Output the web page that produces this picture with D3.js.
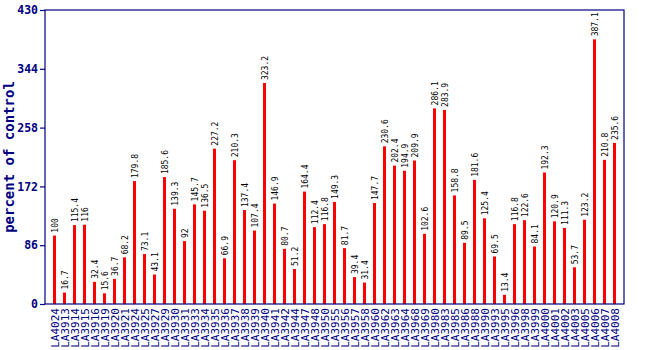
<!DOCTYPE html>
<html>
<head>
<meta charset="utf-8">
<script src="https://cdn.jsdelivr.net/npm/d3@7"></script>
<style>
  html, body { margin: 0; padding: 0; background: #fff; }
  svg { display: block; }
</style>
</head>
<body>
<svg id="chart" width="650" height="350"></svg>
<script>
// Lines tested and their expression relative to control
const lines = ["LA4024","LA3913","LA3914","LA3915","LA3916","LA3919","LA3920","LA3921","LA3924","LA3925",
  "LA3927","LA3929","LA3930","LA3931","LA3933","LA3934","LA3935","LA3936","LA3937","LA3938",
  "LA3939","LA3940","LA3941","LA3942","LA3944","LA3947","LA3948","LA3950","LA3955","LA3956",
  "LA3957","LA3958","LA3960","LA3962","LA3963","LA3964","LA3968","LA3969","LA3980","LA3983",
  "LA3985","LA3986","LA3988","LA3990","LA3993","LA3995","LA3996","LA3998","LA3999","LA4000",
  "LA4001","LA4002","LA4003","LA4005","LA4006","LA4007","LA4008"];
const percentOfControl = [100,16.7,115.4,116,32.4,15.6,36.7,68.2,179.8,73.1,
  43.1,185.6,139.3,92,145.7,136.5,227.2,66.9,210.3,137.4,
  107.4,323.2,146.9,80.7,51.2,164.4,112.4,116.8,149.3,81.7,
  39.4,31.4,147.7,230.6,202.4,194.9,209.9,102.6,286.1,283.9,
  158.8,89.5,181.6,125.4,69.5,13.4,116.8,122.6,84.1,192.3,
  120.9,111.3,53.7,123.2,387.1,210.8,235.6];
const yTicks = [0, 86, 172, 258, 344, 430];

const navy = "#000080";
const frame = { left: 45, right: 624, top: 10, bottom: 304 };

const svg = d3.select("#chart");

const x = d3.scaleBand()
  .domain(lines)
  .range([frame.left + 4.5, frame.right - 4.5]);

const y = d3.scaleLinear()
  .domain([0, 430])
  .range([frame.bottom, frame.top]);

// Bars
const barW = 3;
svg.append("g")
  .selectAll("rect")
  .data(lines)
  .join("rect")
  .attr("x", (d) => x(d) + x.bandwidth() / 2 - barW / 2)
  .attr("y", (d, i) => y(percentOfControl[i]))
  .attr("width", barW)
  .attr("height", (d, i) => frame.bottom - y(percentOfControl[i]))
  .attr("fill", "#ff0000");

// Value labels above each bar
svg.append("g")
  .selectAll("text")
  .data(lines)
  .join("text")
  .attr("transform", (d, i) =>
    `translate(${x(d) + x.bandwidth() / 2 + 3},${y(percentOfControl[i]) - 3}) rotate(-90)`)
  .attr("font-family", "DejaVu Sans Mono, monospace")
  .attr("font-size", 8)
  .attr("fill", "#000")
  .text((d, i) => String(percentOfControl[i]));

// Plot frame
svg.append("rect")
  .attr("x", frame.left)
  .attr("y", frame.top)
  .attr("width", frame.right - frame.left)
  .attr("height", frame.bottom - frame.top)
  .attr("fill", "none")
  .attr("stroke", navy)
  .attr("stroke-width", 1.2);

// Y axis
const yAxis = svg.append("g")
  .attr("transform", `translate(${frame.left},0)`)
  .call(d3.axisLeft(y).tickValues(yTicks).tickSize(5).tickPadding(2).tickFormat(d3.format("d")));
yAxis.select(".domain").remove();
yAxis.selectAll("line").attr("stroke", navy).attr("stroke-width", 1.2);
yAxis.selectAll("text")
  .attr("fill", navy)
  .attr("font-family", "DejaVu Sans Mono, monospace")
  .attr("font-weight", "bold")
  .attr("font-size", 11.5);

// X axis labels
const xAxis = svg.append("g")
  .attr("transform", `translate(0,${frame.bottom})`)
  .call(d3.axisBottom(x).tickSize(0).tickPadding(0));
xAxis.select(".domain").remove();
xAxis.selectAll("text")
  .attr("fill", navy)
  .attr("font-family", "DejaVu Sans Mono, monospace")
  .attr("font-size", 11)
  .attr("text-anchor", "end")
  .attr("dy", null)
  .attr("y", 0)
  .attr("transform", "translate(4,4) rotate(-90)");

// Y axis title
svg.append("text")
  .attr("transform", `translate(14,${(frame.top + frame.bottom) / 2}) rotate(-90)`)
  .attr("text-anchor", "middle")
  .attr("font-family", "DejaVu Sans Mono, monospace")
  .attr("font-weight", "bold")
  .attr("font-size", 14)
  .attr("fill", navy)
  .text("percent of control");
</script>
</body>
</html>
